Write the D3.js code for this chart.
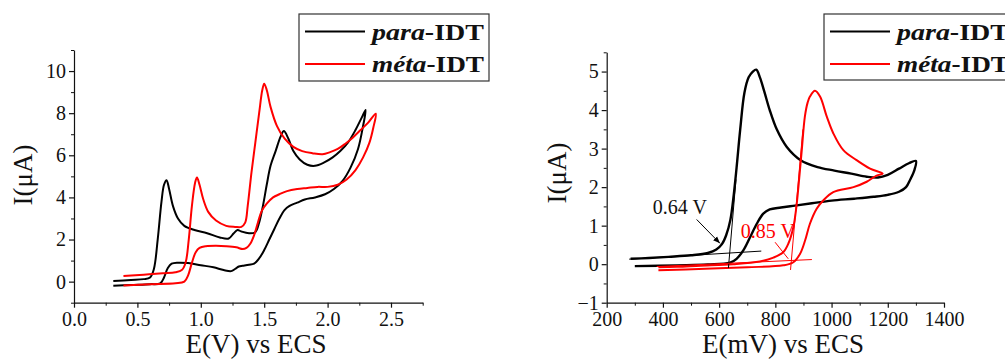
<!DOCTYPE html>
<html>
<head>
<meta charset="utf-8">
<script src="https://cdn.jsdelivr.net/npm/d3@7"></script>
<style>
  html, body { margin: 0; padding: 0; background: #fff; }
  svg { display: block; }
  text { font-family: "Liberation Serif", "Times New Roman", serif; fill: #111; }
</style>
</head>
<body>
<svg id="chart" width="1005" height="363"></svg>
<script>
// ---------- DATA ----------
const seriesNames = ["para-IDT", "méta-IDT"];
const seriesColors = ["#000000", "#ff0000"];

// Left panel: E (V) vs ECS, I (µA)
const leftXTicks = [0.0, 0.5, 1.0, 1.5, 2.0, 2.5];
const leftYTicks = [0, 2, 4, 6, 8, 10];
const paraLeft = [
  [0.31,0.03],[0.45,0.08],[0.55,0.12],[0.60,0.2],[0.63,0.6],[0.66,2.0],[0.69,3.8],[0.71,4.6],[0.73,4.82],
  [0.75,4.4],[0.78,3.6],[0.82,3.0],[0.87,2.65],[0.95,2.45],[1.05,2.3],[1.15,2.1],[1.22,2.05],[1.26,2.3],
  [1.29,2.45],[1.32,2.38],[1.38,2.3],[1.43,2.35],[1.46,2.8],[1.49,3.6],[1.52,4.6],[1.55,5.5],[1.59,6.2],
  [1.63,6.9],[1.655,7.15],[1.69,6.8],[1.73,6.2],[1.78,5.8],[1.84,5.55],[1.90,5.5],[1.97,5.65],[2.04,5.9],
  [2.10,6.2],[2.16,6.6],[2.22,7.2],[2.27,7.8],[2.30,8.15],
  [2.28,7.4],[2.24,6.3],[2.18,5.4],[2.12,4.8],[2.05,4.4],[1.98,4.15],[1.90,4.0],[1.82,3.9],[1.76,3.75],
  [1.70,3.6],[1.66,3.4],[1.62,3.0],[1.58,2.5],[1.54,2.0],[1.50,1.5],[1.46,1.1],[1.42,0.85],[1.38,0.8],
  [1.33,0.75],[1.30,0.72],[1.27,0.6],[1.24,0.5],[1.18,0.55],[1.10,0.68],[1.00,0.78],[0.90,0.88],[0.82,0.9],
  [0.77,0.85],[0.74,0.65],[0.71,0.2],[0.68,-0.08],[0.60,-0.12],[0.45,-0.16],[0.31,-0.2]
];
const metaLeft = [
  [0.39,0.27],[0.55,0.33],[0.70,0.40],[0.80,0.45],[0.85,0.55],[0.88,0.9],[0.905,2.0],[0.93,3.6],[0.955,4.7],
  [0.97,4.95],[0.99,4.6],[1.02,3.9],[1.06,3.3],[1.12,2.9],[1.20,2.65],[1.27,2.6],[1.32,2.6],[1.35,2.8],
  [1.37,3.6],[1.40,5.2],[1.43,6.6],[1.46,8.0],[1.485,9.1],[1.50,9.4],[1.52,9.1],[1.55,8.3],[1.60,7.4],
  [1.66,6.8],[1.73,6.4],[1.80,6.2],[1.88,6.1],[1.96,6.05],[2.02,6.15],[2.08,6.3],[2.14,6.55],[2.20,6.85],
  [2.26,7.2],[2.32,7.55],[2.38,7.98],
  [2.36,7.3],[2.33,6.6],[2.28,5.9],[2.22,5.3],[2.15,4.85],[2.08,4.6],[2.00,4.5],[1.92,4.5],[1.84,4.45],
  [1.76,4.4],[1.68,4.3],[1.62,4.15],[1.57,4.0],[1.52,3.7],[1.48,3.35],[1.45,2.8],[1.42,2.2],[1.39,1.8],
  [1.36,1.6],[1.33,1.55],[1.28,1.63],[1.20,1.68],[1.12,1.7],[1.04,1.68],[0.99,1.6],[0.96,1.4],[0.93,0.9],
  [0.90,0.3],[0.87,0.0],[0.80,-0.08],[0.60,-0.12],[0.39,-0.18]
];

// Right panel: E (mV) vs ECS, I (µA)
const rightXTicks = [200, 400, 600, 800, 1000, 1200, 1400];
const rightYTicks = [-1, 0, 1, 2, 3, 4, 5];
const paraRight = [
  [285,0.14],[350,0.16],[420,0.19],[500,0.23],[560,0.29],[590,0.38],[610,0.52],[625,0.75],[640,1.15],
  [652,1.8],[662,2.5],[675,3.5],[690,4.45],[705,4.85],[720,5.0],[732,5.05],[745,4.85],[760,4.5],[780,4.0],
  [805,3.5],[840,3.05],[890,2.7],[950,2.52],[1010,2.43],[1070,2.35],[1125,2.27],[1165,2.25],[1200,2.32],
  [1240,2.48],[1275,2.62],[1300,2.68],
  [1295,2.45],[1280,2.2],[1265,2.0],[1240,1.88],[1200,1.8],[1150,1.75],[1080,1.7],[1000,1.65],[930,1.58],
  [870,1.52],[820,1.47],[780,1.42],[757,1.31],[734,1.05],[710,0.7],[686,0.36],[662,0.14],[639,0.04],
  [560,-0.01],[450,-0.03],[300,-0.05]
];
const metaRight = [
  [384,-0.08],[450,-0.07],[532,-0.04],[650,0.0],[745,0.07],[793,0.17],[828,0.31],[846,0.53],[864,0.96],
  [875,1.5],[882,2.0],[894,2.96],[905,3.83],[915,4.2],[923,4.35],[941,4.5],[959,4.35],[983,3.83],
  [1006,3.4],[1042,2.96],[1089,2.7],[1137,2.48],[1182,2.35],
  [1160,2.3],[1125,2.14],[1078,2.0],[1006,1.87],[971,1.66],[947,1.44],[923,1.05],[906,0.62],[888,0.27],
  [864,0.05],[828,-0.03],[700,-0.08],[550,-0.12],[384,-0.16]
];
// onset tangents (right panel)
const paraBaseTangent = [[280,0.13],[750,0.34]];
const paraSlopeTangent = [[633,-0.1],[660,2.2]];
const metaBaseTangent = [[378,-0.06],[930,0.12]];
const metaSlopeTangent = [[854,-0.15],[898,3.5]];
const onsetLabels = ["0.64 V", "0.85 V"];
const onsetLabelPos = [[364,1.31],[677,0.69]];
const onsetArrows = [[[520,1.16],[603,0.54]], [[799,0.57],[846,0.14]]];

// ---------- DRAW ----------
const svg = d3.select("#chart");
const defs = svg.append("defs");
defs.append("marker").attr("id","arrowK").attr("viewBox","0 0 10 10").attr("refX",10).attr("refY",5)
  .attr("markerWidth",7).attr("markerHeight",7).attr("orient","auto")
  .append("path").attr("d","M0,1 L10,5 L0,9 z").attr("fill","#000");

function panel(opts) {
  const g = svg.append("g");
  const x = d3.scaleLinear().domain(opts.xDomain).range(opts.xRange);
  const y = d3.scaleLinear().domain(opts.yDomain).range(opts.yRange);

  // minor ticks
  const xAxisMinor = d3.axisBottom(x).tickValues(opts.xMinor).tickSize(3).tickFormat("");
  const yAxisMinor = d3.axisLeft(y).tickValues(opts.yMinor).tickSize(3).tickFormat("");
  g.append("g").attr("transform",`translate(0,${opts.yRange[0]})`).call(xAxisMinor).call(s=>s.select(".domain").remove());
  g.append("g").attr("transform",`translate(${opts.xRange[0]},0)`).call(yAxisMinor).call(s=>s.select(".domain").remove());

  const xAxis = d3.axisBottom(x).tickValues(opts.xTicks).tickSize(5).tickPadding(4).tickSizeOuter(0).tickFormat(opts.xFmt);
  const yAxis = d3.axisLeft(y).tickValues(opts.yTicks).tickSize(5).tickPadding(3).tickSizeOuter(0).tickFormat(opts.yFmt);
  const gx = g.append("g").attr("transform",`translate(0,${opts.yRange[0]})`).call(xAxis);
  const gy = g.append("g").attr("transform",`translate(${opts.xRange[0]},0)`).call(yAxis);
  [gx, gy].forEach(a => {
    a.selectAll("text").style("font-family","'Liberation Serif', serif").style("font-size","20px").attr("fill","#111");
    a.selectAll("line,path").attr("stroke","#111").attr("stroke-width",1.2);
  });
  g.selectAll(".tick line").attr("stroke","#111");

  const line = d3.line().x(d=>x(d[0])).y(d=>y(d[1])).curve(d3.curveCatmullRom.alpha(0.5));
  opts.series.forEach((s,i) => {
    g.append("path").datum(s).attr("d", line).attr("fill","none")
      .attr("stroke", seriesColors[i]).attr("stroke-width", opts.lw[i]).attr("stroke-linejoin","round");
  });

  // axis titles
  g.append("text").attr("x", opts.xTitlePos[0]).attr("y", opts.xTitlePos[1]).attr("text-anchor","middle")
    .style("font-size","27px").text(opts.xTitle);
  g.append("text").attr("transform",`translate(${opts.yTitlePos[0]},${opts.yTitlePos[1]}) rotate(-90)`)
    .attr("text-anchor","middle").style("font-size","27px").text("I(μA)");

  // legend
  const L = opts.legend;
  g.append("rect").attr("x",L.x).attr("y",L.y).attr("width",L.w).attr("height",L.h)
    .attr("fill","#fff").attr("stroke","#333").attr("stroke-width",1.2);
  seriesNames.forEach((name,i) => {
    const ly = L.y + 17.5 + i*32.5;
    g.append("line").attr("x1",L.x+6).attr("x2",L.x+66).attr("y1",ly).attr("y2",ly)
      .attr("stroke",seriesColors[i]).attr("stroke-width",2);
    const parts = name.split("-");
    const t = g.append("text").attr("x",L.x+73).attr("y",ly+8).style("font-size","23px").style("font-weight","bold")
      .attr("textLength", 112).attr("lengthAdjust","spacingAndGlyphs");
    t.append("tspan").style("font-style","italic").text(parts[0]);
    t.append("tspan").text("-" + parts[1]);
  });
  return {g, x, y};
}

panel({
  xDomain:[0,2.75], xRange:[74,422.7], yDomain:[-1,11], yRange:[302.7,50],
  xTicks: leftXTicks, yTicks: leftYTicks,
  xMinor: d3.range(0.25,2.76,0.5), yMinor: d3.range(-1,11.1,2),
  xFmt: d3.format(".1f"), yFmt: d3.format("d"),
  series:[paraLeft, metaLeft], lw:[2,2],
  xTitle:"E(V) vs ECS", xTitlePos:[256,353], yTitlePos:[32,175],
  legend:{x:299,y:14,w:190,h:67}
});

const R = panel({
  xDomain:[200,1400], xRange:[606.7,944], yDomain:[-1,5.5], yRange:[302.7,52.3],
  xTicks: rightXTicks, yTicks: rightYTicks,
  xMinor: d3.range(300,1400,200), yMinor: d3.range(-0.5,5.6,1),
  xFmt: d3.format("d"), yFmt: d3.format("d"),
  series:[paraRight, metaRight], lw:[2.4,2],
  xTitle:"E(mV) vs ECS", xTitlePos:[783,353], yTitlePos:[566,173],
  legend:{x:824,y:14,w:190,h:66}
});

// tangents and onset annotations on the right panel
const tl = d3.line().x(d=>R.x(d[0])).y(d=>R.y(d[1]));
[[paraBaseTangent,0],[paraSlopeTangent,0],[metaBaseTangent,1],[metaSlopeTangent,1]].forEach(([d,i]) => {
  R.g.append("path").attr("d", tl(d)).attr("stroke", seriesColors[i]).attr("stroke-width",1).attr("fill","none");
});
onsetArrows.forEach((d,i) => {
  const p = R.g.append("path").attr("d", tl(d)).attr("stroke", seriesColors[i]).attr("stroke-width",1).attr("fill","none");
  if (i === 0) p.attr("marker-end","url(#arrowK)");
});
onsetLabels.forEach((lab,i) => {
  R.g.append("text").attr("x", R.x(onsetLabelPos[i][0])).attr("y", R.y(onsetLabelPos[i][1]))
    .style("font-size","20px").attr("fill", i ? "#ff0000" : "#111").style("fill", i ? "#ff0000" : "#111").text(lab);
});
</script>
</body>
</html>
